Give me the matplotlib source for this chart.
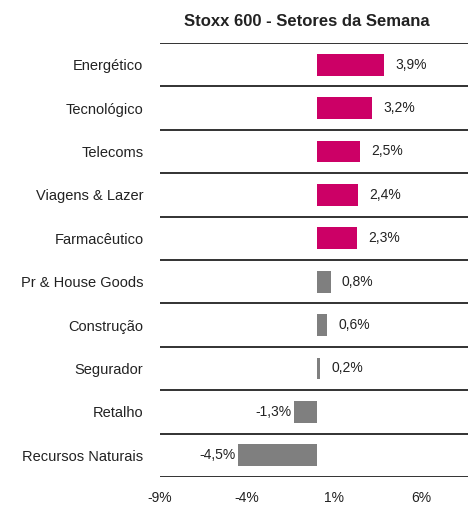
import matplotlib.pyplot as plt
import numpy as np

sectors = ['Energético', 'Tecnológico', 'Telecoms', 'Viagens & Lazer', 'Farmacêutico',
           'Pr & House Goods', 'Construção', 'Segurador', 'Retalho', 'Recursos Naturais']
values = [3.9, 3.2, 2.5, 2.4, 2.3, 0.8, 0.6, 0.2, -1.3, -4.5]
colors = ['#CC0066'] * 5 + ['#7F7F7F'] * 5
xticks = [-9, -4, 1, 6]

plt.rcParams['font.family'] = ['Liberation Sans', 'DejaVu Sans']

fig = plt.figure(figsize=(4.68, 5.09), dpi=100)
ax = fig.add_axes([0.342, 0.063, 0.658, 0.8525])

y = np.arange(len(sectors))
ax.barh(y, values, height=0.5, color=colors)

for yi, v in zip(y, values):
    lbl = f'{v:.1f}%'.replace('.', ',')
    if v >= 0:
        ax.text(v + 0.65, yi, lbl, va='center', ha='left', fontsize=10, color='#222222')
    else:
        ax.text(v - 0.15, yi, lbl, va='center', ha='right', fontsize=10, color='#222222')

for s in np.arange(-0.5, len(sectors), 1.0):
    ax.axhline(s, color='#222222', lw=1.3)

ax.set_xlim(-9, 8.7)
ax.set_ylim(len(sectors) - 0.5, -0.5)
ax.set_yticks(y)
ax.set_yticklabels(sectors, fontsize=10.5, color='#222222')
ax.set_xticks(xticks)
ax.set_xticklabels([f'{t}%' for t in xticks], fontsize=10, color='#222222')
ax.tick_params(length=0)
ax.tick_params(axis='y', pad=12)
ax.tick_params(axis='x', pad=10)
for sp in ax.spines.values():
    sp.set_visible(False)

fig.text(0.655, 0.957, 'Stoxx 600 - Setores da Semana', ha='center', va='center',
         fontsize=12, fontweight='bold', color='#222222')

fig.savefig('out.png', dpi=100)
